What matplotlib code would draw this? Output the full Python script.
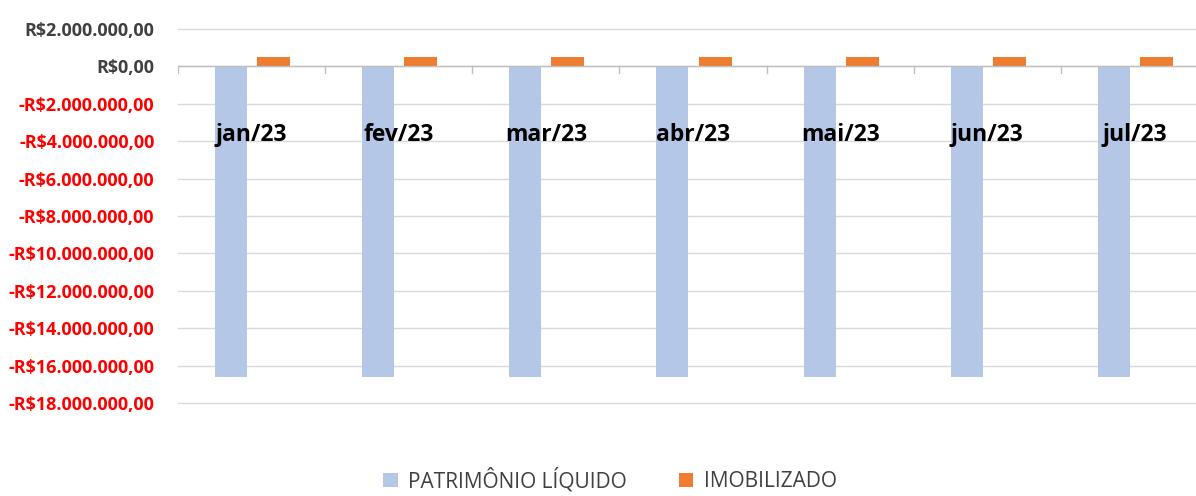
import numpy as np
import matplotlib.pyplot as plt

# dados
meses = ["jan/23", "fev/23", "mar/23", "abr/23", "mai/23", "jun/23", "jul/23"]
patrimonio_liquido = [-16630000, -16630000, -16630000, -16630000, -16630000, -16630000, -16630000]
imobilizado = [480000, 480000, 480000, 480000, 480000, 480000, 480000]
yticks = np.arange(-18000000, 2000001, 2000000)

azul = "#B4C7E7"
laranja = "#ED7D31"

plt.rcParams['font.family'] = ['Open Sans', 'DejaVu Sans']

fig = plt.figure(figsize=(11.96, 4.96), dpi=100)
# o gráfico original é cortado à direita
ax = fig.add_axes([178/1196, 1 - 403/496, 1030/1196, (403-29)/496])

x = np.arange(len(meses))
ax.bar(x - 0.14, patrimonio_liquido, 0.218, color=azul, zorder=2, label="PATRIMÔNIO LÍQUIDO")
ax.bar(x + 0.15, imobilizado, 0.224, color=laranja, zorder=2, label="IMOBILIZADO")

ax.set_xlim(-0.5, len(meses) - 0.5)
ax.set_ylim(-18000000, 2000000)
ax.set_yticks(yticks)

def fmt(v):
    s = "{:,.2f}".format(abs(v)).replace(",", "X").replace(".", ",").replace("X", ".")
    return ("-R$" if v < 0 else "R$") + s

ax.set_yticklabels([fmt(v) for v in yticks], fontsize=13, fontweight="bold")
for lab, v in zip(ax.get_yticklabels(), yticks):
    lab.set_color("red" if v < 0 else "#404040")
ax.tick_params(axis="y", length=0, pad=17)

ax.grid(axis="y", color="#D9D9D9", linewidth=1, zorder=0)
for gl in ax.get_ygridlines():
    gl.set_clip_on(False)
for s in ["top", "right", "left", "bottom"]:
    ax.spines[s].set_visible(False)
ax.set_xticks([])

# eixo horizontal no zero com marcas entre categorias
ax.axhline(0, color="#BFBFBF", linewidth=1, zorder=3)
for b in np.arange(-0.5, len(meses)):
    ax.plot([b, b], [0, -330000], color="#BFBFBF", linewidth=1, zorder=3)

for xi, m in zip(x, meses):
    ax.text(xi, -3650000, m, ha="center", va="center", fontsize=16.5,
            fontweight="bold", color="black", zorder=4)

leg = fig.legend(loc="lower center", ncol=2, frameon=False, fontsize=15,
                 bbox_to_anchor=(0.51, -0.03), handlelength=0.7, handleheight=0.7,
                 columnspacing=2.5, handletextpad=0.5)
for t in leg.get_texts():
    t.set_color("#404040")

fig.savefig("out.png", dpi=100)
